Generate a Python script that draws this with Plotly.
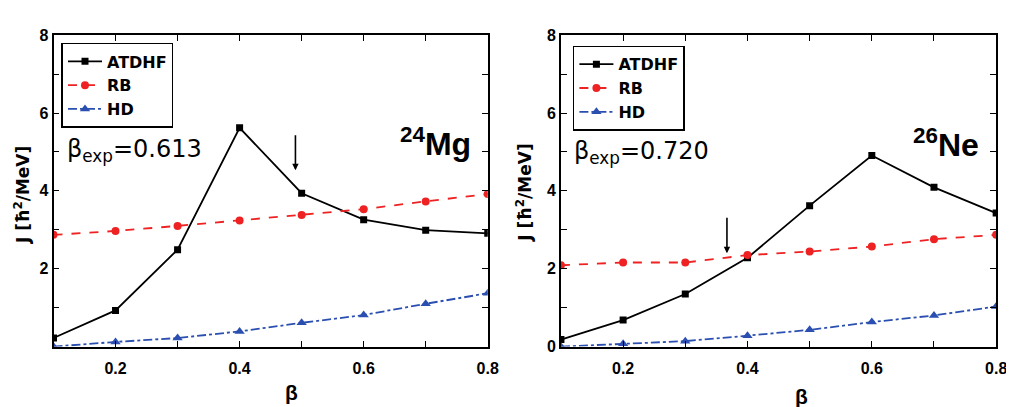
import plotly.graph_objects as go

beta = [0.1, 0.2, 0.3, 0.4, 0.5, 0.6, 0.7, 0.8]

mg_atdhf = [0.22, 0.93, 2.49, 5.62, 3.94, 3.26, 2.99, 2.91]
mg_rb = [2.87, 2.97, 3.10, 3.24, 3.38, 3.53, 3.73, 3.92]
mg_hd = [0.0, 0.12, 0.22, 0.39, 0.61, 0.81, 1.10, 1.37]

ne_atdhf = [0.18, 0.68, 1.35, 2.28, 3.62, 4.91, 4.09, 3.43]
ne_rb = [2.09, 2.16, 2.16, 2.35, 2.44, 2.57, 2.76, 2.87]
ne_hd = [0.0, 0.07, 0.14, 0.28, 0.43, 0.63, 0.80, 1.03]

arrow_mg = (0.49, 5.47, 4.53)
arrow_ne = (0.367, 3.35, 2.40)

x_ticks = [0.2, 0.4, 0.6, 0.8]
y_ticks_left = [2, 4, 6, 8]
y_ticks_right = [0, 2, 4, 6, 8]

FONT = "Liberation Sans"
WIDE = "DejaVu Sans"

W, H = 1014, 407


def px(x):
    return x / W


def py(y):
    return 1 - y / H


fig = go.Figure()


def add_panel(xa, ya, atdhf, rb, hd, legend):
    fig.add_trace(go.Scatter(x=beta, y=atdhf, name="<b>ATDHF</b>", mode="lines+markers",
                             line=dict(color="black", width=1.8),
                             marker=dict(symbol="square", size=7, color="black"),
                             xaxis=xa, yaxis=ya, legend=legend))
    fig.add_trace(go.Scatter(x=beta, y=rb, name="<b>RB</b>", mode="lines+markers",
                             line=dict(color="#ee2222", width=1.8, dash="dash"),
                             marker=dict(symbol="circle", size=8, color="#ee2222"),
                             xaxis=xa, yaxis=ya, legend=legend))
    fig.add_trace(go.Scatter(x=beta, y=hd, name="<b>HD</b>", mode="lines+markers",
                             line=dict(color="#2a4fb0", width=1.8, dash="dashdot"),
                             marker=dict(symbol="triangle-up", size=9, color="#2a4fb0"),
                             xaxis=xa, yaxis=ya, legend=legend))


add_panel("x", "y", mg_atdhf, mg_rb, mg_hd, "legend")
add_panel("x2", "y2", ne_atdhf, ne_rb, ne_hd, "legend2")

axis_common = dict(showgrid=False, zeroline=False, showline=True, mirror="ticks",
                   linecolor="black", linewidth=1.8, ticks="inside", ticklen=6,
                   tickcolor="black", tickwidth=1.4,
                   tickfont=dict(family=FONT, size=16, color="black", weight="bold"))
xminor = dict(ticks="inside", tick0=0.1, dtick=0.1, ticklen=6, tickcolor="black", tickwidth=1.4)
yminor = dict(ticks="inside", tick0=0, dtick=1, ticklen=6, tickcolor="black", tickwidth=1.4)

ydom = [py(345), py(20)]
legend_common = dict(xanchor="left", yanchor="top", bordercolor="black", borderwidth=1.6,
                     bgcolor="white", font=dict(family=WIDE, size=16, color="black"),
                     itemwidth=34, tracegroupgap=0)
fig.update_layout(
    width=W, height=H,
    margin=dict(l=0, r=0, t=0, b=0),
    paper_bgcolor="white", plot_bgcolor="white",
    xaxis=dict(axis_common, domain=[px(46), px(485)], range=[0.1, 0.8],
               tickvals=x_ticks, minor=xminor, anchor="y", ticklabelstandoff=6),
    yaxis=dict(axis_common, domain=ydom, range=[0, 8], tickvals=y_ticks_left,
               minor=yminor, anchor="x"),
    xaxis2=dict(axis_common, domain=[px(559), px(999)], range=[0.1, 0.8],
                tickvals=x_ticks, minor=xminor, anchor="y2", ticklabelstandoff=6),
    yaxis2=dict(axis_common, domain=ydom, range=[0, 8], tickvals=y_ticks_right,
                minor=yminor, anchor="x2"),
    legend=dict(legend_common, x=px(54), y=py(28)),
    legend2=dict(legend_common, x=px(571), y=py(31)),
    showlegend=True,
)

annots = []
for bx, by, txt, nuc, nucx, nucy, ytx, yty in [
    (58, 140, "β<sub>exp</sub>=0.613", "<sup>24</sup>Mg", 470, 131, 14, 187),
    (570, 142, "β<sub>exp</sub>=0.720", "<sup>26</sup>Ne", 984, 133, 522, 184),
]:
    annots.append(dict(xref="paper", yref="paper", x=px(bx), y=py(by),
                       xanchor="left", yanchor="middle", showarrow=False, text=txt,
                       font=dict(family=WIDE, size=24, color="black")))
    annots.append(dict(xref="paper", yref="paper", x=px(nucx), y=py(nucy),
                       xanchor="right", yanchor="middle", showarrow=False,
                       text="<b>" + nuc + "</b>",
                       font=dict(family=FONT, size=32, color="black")))
    annots.append(dict(xref="paper", yref="paper", x=px(ytx), y=py(yty),
                       xanchor="center", yanchor="middle", showarrow=False, textangle=-90,
                       text="<b>J [ħ<sup>2</sup>/MeV]</b>",
                       font=dict(family=WIDE, size=17, color="black")))

annots.append(dict(xref="paper", yref="paper", x=px(287), y=py(393),
                   xanchor="center", yanchor="middle", showarrow=False, text="<b>β</b>",
                   font=dict(family=FONT, size=21, color="black")))
annots.append(dict(xref="paper", yref="paper", x=px(802), y=py(397),
                   xanchor="center", yanchor="middle", showarrow=False, text="<b>β</b>",
                   font=dict(family=FONT, size=21, color="black")))

for (xa, ya), (bx, y0, y1) in [(("x", "y"), arrow_mg), (("x2", "y2"), arrow_ne)]:
    annots.append(dict(xref=xa, yref=ya, axref=xa, ayref=ya, x=bx, y=y1, ax=bx, ay=y0,
                       text="", showarrow=True, arrowhead=2, arrowsize=0.8, arrowwidth=1.6,
                       arrowcolor="black"))

fig.update_layout(annotations=annots)
fig.write_html("out.html")
